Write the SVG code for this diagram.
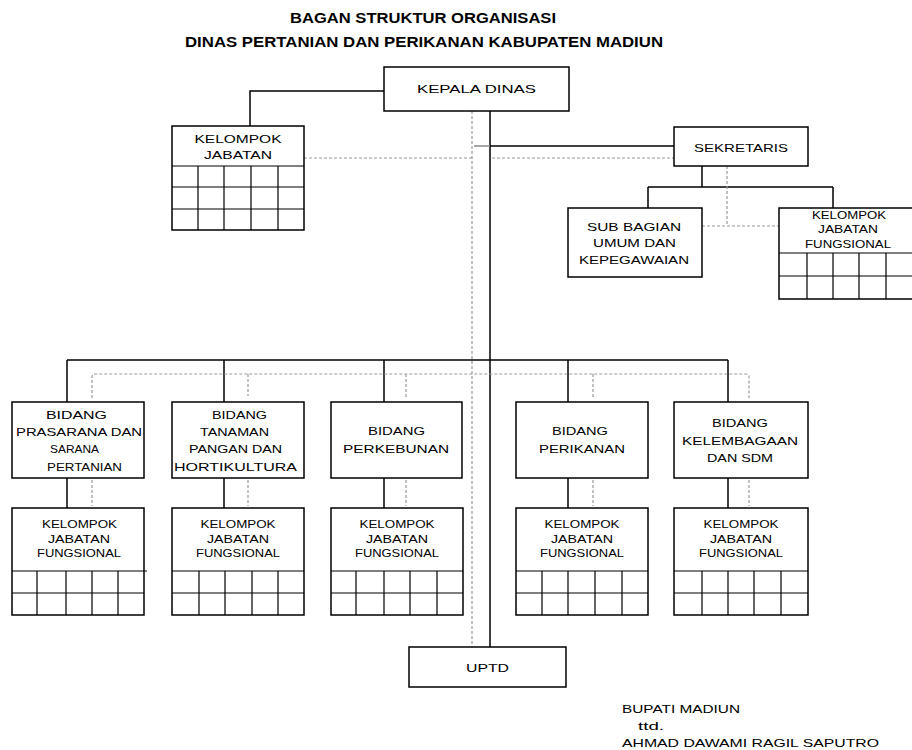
<svg xmlns="http://www.w3.org/2000/svg" width="912" height="750" viewBox="0 0 912 750">
<style>
.bx{fill:#fff;stroke:#000;stroke-width:1.5}
.ln{fill:none;stroke:#000;stroke-width:1.5}
.gl{fill:none;stroke:#000;stroke-width:1.2}
.dl{fill:none;stroke:#9a9a9a;stroke-width:1.2;stroke-dasharray:3,2}
.t{font-family:"Liberation Sans",Arial,sans-serif;font-size:11px;fill:#000;text-anchor:middle}
.s{font-family:"Liberation Sans",Arial,sans-serif;font-size:11px;fill:#000}
.h{font-family:"Liberation Sans",Arial,sans-serif;font-size:14px;font-weight:bold;fill:#000;text-anchor:middle}
</style>
<rect width="912" height="750" fill="#fff"/>
<g id="title">
<text class="h" x="423" y="23" textLength="266" lengthAdjust="spacingAndGlyphs">BAGAN STRUKTUR ORGANISASI</text>
<text class="h" x="424" y="47" textLength="478" lengthAdjust="spacingAndGlyphs">DINAS PERTANIAN  DAN PERIKANAN KABUPATEN MADIUN</text>
</g>
<g id="connectors">
<path class="ln" d="M384 91H250V126"/>
<path class="dl" d="M472 111V647"/>
<path class="ln" d="M490 111V647"/>
<path d="M474 146H490" stroke="#888" stroke-width="1.5"/>
<path class="ln" d="M490 146H674"/>
<path class="dl" d="M304 158H472"/>
<path class="dl" d="M492 158H674"/>
<path class="ln" d="M702 166V187M648 187H833M648 187V208M833 187V208"/>
<path class="dl" d="M727 166V226M702 226H779"/>
<path class="ln" d="M67 360H728M67 360V402M224 360V402M384 360V402M568 360V402M728 360V402"/>
<path class="dl" d="M92 398V377Q92 374 95 374H746Q749 374 749 377V398M248 374V396M406 374V399M593 374V398"/>
<path class="ln" d="M67 478V508M224 478V508M384 478V508M568 478V508M728 478V508"/>
<path class="dl" d="M92 480V506M248 480V506M406 480V506M593 480V506M749 480V506"/>
</g>
<g id="kepala-dinas">
<rect class="bx" x="384" y="67" width="185" height="44"/>
<text class="t" x="476.5" y="93" textLength="119" lengthAdjust="spacingAndGlyphs">KEPALA DINAS</text>
</g>
<g id="kelompok-jabatan">
<rect class="bx" x="172" y="126" width="132" height="104"/>
<path class="gl" d="M172 166H304M172 187H304M172 209H304M198 166V230M224 166V230M251 166V230M278 166V230"/>
<text class="t" x="238" y="143" textLength="87" lengthAdjust="spacingAndGlyphs">KELOMPOK</text>
<text class="t" x="238" y="159" textLength="68" lengthAdjust="spacingAndGlyphs">JABATAN</text>
</g>
<g id="sekretaris">
<rect class="bx" x="674" y="127" width="134" height="39"/>
<text class="t" x="741" y="152" textLength="94" lengthAdjust="spacingAndGlyphs">SEKRETARIS</text>
</g>
<g id="sub-bagian">
<rect class="bx" x="568" y="208" width="134" height="69"/>
<text class="t" x="634" y="231" textLength="94" lengthAdjust="spacingAndGlyphs">SUB BAGIAN</text>
<text class="t" x="634.5" y="247" textLength="83" lengthAdjust="spacingAndGlyphs">UMUM DAN</text>
<text class="t" x="634" y="264" textLength="110" lengthAdjust="spacingAndGlyphs">KEPEGAWAIAN</text>
</g>
<g id="kjf-sekretariat">
<rect class="bx" x="779" y="208" width="136" height="91"/>
<path class="gl" d="M779 253H912M779 276H912M807 253V299M833 253V299M859 253V299M886 253V299"/>
<text class="t" x="849" y="219" textLength="74" lengthAdjust="spacingAndGlyphs">KELOMPOK</text>
<text class="t" x="848" y="233" textLength="60" lengthAdjust="spacingAndGlyphs">JABATAN</text>
<text class="t" x="848" y="248" textLength="86" lengthAdjust="spacingAndGlyphs">FUNGSIONAL</text>
</g>
<g id="bidang-prasarana">
<rect class="bx" x="12" y="402" width="132" height="76"/>
<text class="t" x="76.5" y="419" textLength="61" lengthAdjust="spacingAndGlyphs">BIDANG</text>
<text class="t" x="79" y="436" textLength="126" lengthAdjust="spacingAndGlyphs">PRASARANA DAN</text>
<text class="t" x="74.5" y="453" textLength="49" lengthAdjust="spacingAndGlyphs">SARANA</text>
<text class="t" x="84.5" y="471" textLength="75" lengthAdjust="spacingAndGlyphs">PERTANIAN</text>
</g>
<g id="bidang-tanaman">
<rect class="bx" x="172" y="402" width="132" height="76"/>
<text class="t" x="239.5" y="419" textLength="55" lengthAdjust="spacingAndGlyphs">BIDANG</text>
<text class="t" x="234.5" y="436" textLength="69" lengthAdjust="spacingAndGlyphs">TANAMAN</text>
<text class="t" x="235.5" y="453" textLength="93" lengthAdjust="spacingAndGlyphs">PANGAN DAN</text>
<text class="t" x="235.5" y="471" textLength="123" lengthAdjust="spacingAndGlyphs">HORTIKULTURA</text>
</g>
<g id="bidang-perkebunan">
<rect class="bx" x="331" y="402" width="131" height="76"/>
<text class="t" x="396.5" y="435" textLength="57" lengthAdjust="spacingAndGlyphs">BIDANG</text>
<text class="t" x="396" y="453" textLength="106" lengthAdjust="spacingAndGlyphs">PERKEBUNAN</text>
</g>
<g id="bidang-perikanan">
<rect class="bx" x="516" y="402" width="132" height="76"/>
<text class="t" x="580" y="435" textLength="56" lengthAdjust="spacingAndGlyphs">BIDANG</text>
<text class="t" x="582" y="453" textLength="86" lengthAdjust="spacingAndGlyphs">PERIKANAN</text>
</g>
<g id="bidang-kelembagaan">
<rect class="bx" x="674" y="402" width="134" height="76"/>
<text class="t" x="740" y="427" textLength="56" lengthAdjust="spacingAndGlyphs">BIDANG</text>
<text class="t" x="740" y="445" textLength="116" lengthAdjust="spacingAndGlyphs">KELEMBAGAAN</text>
<text class="t" x="740" y="462" textLength="66" lengthAdjust="spacingAndGlyphs">DAN SDM</text>
</g>
<g id="kjf-1">
<rect class="bx" x="12" y="508" width="132" height="107"/>
<path class="gl" d="M12 571H147M12 593H144M37 571V615M66 571V615M92 571V615M118 571V615"/>
<text class="t" x="79.5" y="528" textLength="75" lengthAdjust="spacingAndGlyphs">KELOMPOK</text>
<text class="t" x="79" y="543" textLength="62" lengthAdjust="spacingAndGlyphs">JABATAN</text>
<text class="t" x="79" y="557" textLength="84" lengthAdjust="spacingAndGlyphs">FUNGSIONAL</text>
</g>
<g id="kjf-2">
<rect class="bx" x="172" y="508" width="132" height="107"/>
<path class="gl" d="M172 571H304M172 593H304M199 571V615M225 571V615M252 571V615M278 571V615"/>
<text class="t" x="238" y="528" textLength="75" lengthAdjust="spacingAndGlyphs">KELOMPOK</text>
<text class="t" x="238" y="543" textLength="62" lengthAdjust="spacingAndGlyphs">JABATAN</text>
<text class="t" x="238" y="557" textLength="84" lengthAdjust="spacingAndGlyphs">FUNGSIONAL</text>
</g>
<g id="kjf-3">
<rect class="bx" x="331" y="508" width="132" height="107"/>
<path class="gl" d="M331 571H463M331 593H463M356 571V615M384 571V615M410 571V615M437 571V615"/>
<text class="t" x="397" y="528" textLength="75" lengthAdjust="spacingAndGlyphs">KELOMPOK</text>
<text class="t" x="397" y="543" textLength="62" lengthAdjust="spacingAndGlyphs">JABATAN</text>
<text class="t" x="397" y="557" textLength="84" lengthAdjust="spacingAndGlyphs">FUNGSIONAL</text>
</g>
<g id="kjf-4">
<rect class="bx" x="516" y="508" width="132" height="107"/>
<path class="gl" d="M516 571H648M516 593H648M542 571V615M568 571V615M595 571V615M622 571V615"/>
<text class="t" x="582" y="528" textLength="75" lengthAdjust="spacingAndGlyphs">KELOMPOK</text>
<text class="t" x="582" y="543" textLength="62" lengthAdjust="spacingAndGlyphs">JABATAN</text>
<text class="t" x="582" y="557" textLength="84" lengthAdjust="spacingAndGlyphs">FUNGSIONAL</text>
</g>
<g id="kjf-5">
<rect class="bx" x="674" y="508" width="134" height="107"/>
<path class="gl" d="M674 571H808M674 593H808M702 571V615M728 571V615M754 571V615M781 571V615"/>
<text class="t" x="741" y="528" textLength="75" lengthAdjust="spacingAndGlyphs">KELOMPOK</text>
<text class="t" x="741" y="543" textLength="62" lengthAdjust="spacingAndGlyphs">JABATAN</text>
<text class="t" x="741" y="557" textLength="84" lengthAdjust="spacingAndGlyphs">FUNGSIONAL</text>
</g>
<g id="uptd">
<rect class="bx" x="409" y="647" width="157" height="40"/>
<text class="t" x="487.5" y="672" textLength="43" lengthAdjust="spacingAndGlyphs">UPTD</text>
</g>
<g id="signature">
<text class="s" x="622" y="713" textLength="118" lengthAdjust="spacingAndGlyphs">BUPATI MADIUN</text>
<text class="s" x="638" y="730" textLength="26" lengthAdjust="spacingAndGlyphs">ttd.</text>
<text class="s" x="622" y="747" textLength="257" lengthAdjust="spacingAndGlyphs">AHMAD DAWAMI RAGIL SAPUTRO</text>
</g>
</svg>
